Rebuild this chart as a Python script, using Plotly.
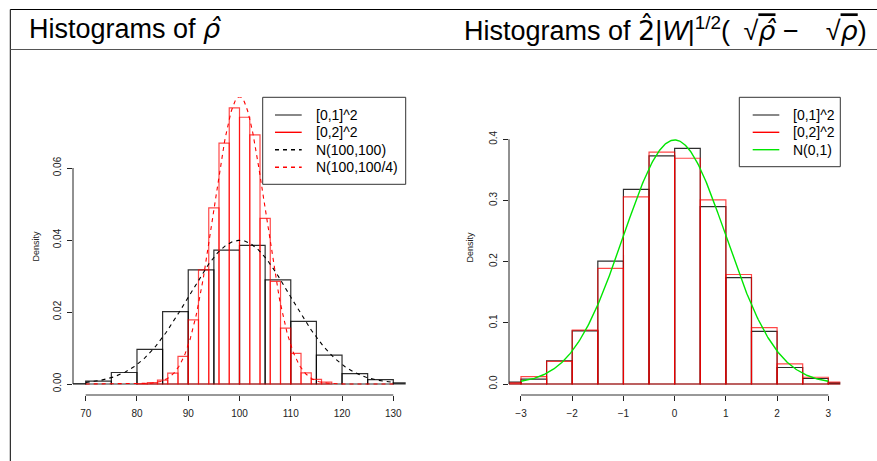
import numpy as np
import plotly.graph_objects as go

# ---------------- data ----------------
# left panel: histograms of rho-hat
left_black_edges = [65, 70, 75, 80, 85, 90, 95, 100, 105, 110, 115, 120, 125, 130]
left_black_dens = [0.0001, 0.0008, 0.0032, 0.0096, 0.0201, 0.0317, 0.0372,
                   0.0385, 0.0289, 0.0174, 0.0080, 0.0029, 0.0012, 0.0003]
left_black_width = 5

left_red_edges = [80, 82, 84, 86, 88, 90, 92, 94, 96, 98, 100, 102, 104, 106,
                  108, 110, 112, 114, 116]
left_red_dens = [0.0001, 0.0004, 0.0011, 0.0030, 0.0077, 0.0178, 0.0317, 0.0489,
                 0.0669, 0.0767, 0.0741, 0.0692, 0.0460, 0.0285, 0.0155, 0.0085,
                 0.0031, 0.0013, 0.0005]
left_red_width = 2

left_norm_mean = 100
left_norm_var_black = 100
left_norm_var_red = 100 / 4
left_curve_span = [70, 130]

left_xticks = [70, 80, 90, 100, 110, 120, 130]
left_yticks = [0.00, 0.02, 0.04, 0.06]
left_yticktext = ["0.00", "0.02", "0.04", "0.06"]

# right panel: standardized statistic
right_edges = [-3.5, -3.0, -2.5, -2.0, -1.5, -1.0, -0.5, 0.0, 0.5, 1.0, 1.5, 2.0, 2.5, 3.0]
right_black_dens = [0.003, 0.008, 0.038, 0.087, 0.201, 0.318, 0.373,
                    0.385, 0.290, 0.174, 0.086, 0.027, 0.009, 0.002]
right_red_dens = [0.002, 0.012, 0.037, 0.088, 0.189, 0.306, 0.379,
                  0.369, 0.301, 0.179, 0.092, 0.033, 0.011, 0.003]
right_width = 0.5
right_curve_span = [-3, 3]

right_xticks = [-3, -2, -1, 0, 1, 2, 3]
right_yticks = [0.0, 0.1, 0.2, 0.3, 0.4]
right_yticktext = ["0.0", "0.1", "0.2", "0.3", "0.4"]

left_legend = ["[0,1]^2", "[0,2]^2", "N(100,100)", "N(100,100/4)"]
right_legend = ["[0,1]^2", "[0,2]^2", "N(0,1)"]

# ---------------- styling ----------------
W, H = 877, 461
BLACK_H = "rgba(0,0,0,0.82)"
RED_H = "rgba(255,0,0,0.72)"
LEG_GRAY = "#555555"
GREEN = "#00e600"
FONT = "Liberation Sans, Arial, sans-serif"
TITLE_FONT = "Liberation Sans Narrow, Liberation Sans, Arial, sans-serif"


def px(x):
    return x / W


def py(y):
    return 1 - y / H


def npdf(x, m, v):
    return np.exp(-(x - m) ** 2 / (2 * v)) / np.sqrt(2 * np.pi * v)


fig = go.Figure()


def add_hist(edges, dens, width, color, xa, ya):
    fig.add_trace(go.Bar(
        x=[e + width / 2 for e in edges], y=dens, width=width,
        marker=dict(color="rgba(0,0,0,0)", line=dict(color=color, width=1.2)),
        xaxis=xa, yaxis=ya, showlegend=False, hoverinfo="skip"))


add_hist(left_black_edges, left_black_dens, left_black_width, BLACK_H, "x", "y")
add_hist(left_red_edges, left_red_dens, left_red_width, RED_H, "x", "y")

xl = np.linspace(left_curve_span[0], left_curve_span[1], 400)
fig.add_trace(go.Scatter(x=xl, y=npdf(xl, left_norm_mean, left_norm_var_black), mode="lines",
                         line=dict(color="black", width=1.1, dash="4px,4px"),
                         xaxis="x", yaxis="y", showlegend=False, hoverinfo="skip"))
fig.add_trace(go.Scatter(x=xl, y=npdf(xl, left_norm_mean, left_norm_var_red), mode="lines",
                         line=dict(color="red", width=1.1, dash="4px,4px"),
                         xaxis="x", yaxis="y", showlegend=False, hoverinfo="skip"))

add_hist(right_edges, right_black_dens, right_width, BLACK_H, "x2", "y2")
add_hist(right_edges, right_red_dens, right_width, RED_H, "x2", "y2")
xr = np.linspace(right_curve_span[0], right_curve_span[1], 400)
fig.add_trace(go.Scatter(x=xr, y=npdf(xr, 0, 1), mode="lines",
                         line=dict(color=GREEN, width=1.4),
                         xaxis="x2", yaxis="y2", showlegend=False, hoverinfo="skip"))

tickfont = dict(family=FONT, size=10, color="#222")
common_x = dict(ticks="outside", ticklen=5, tickwidth=1, tickcolor="#222",
                showline=False, zeroline=False, showgrid=False, tickfont=tickfont,
                ticklabelstandoff=4, fixedrange=True)
common_y = dict(ticks="outside", ticklen=5, tickwidth=1, tickcolor="#222",
                showline=False, zeroline=False, showgrid=False, tickfont=tickfont,
                tickangle=-90, ticklabelstandoff=2, fixedrange=True)

fig.update_layout(
    width=W, height=H, margin=dict(l=0, r=0, t=0, b=0),
    paper_bgcolor="white", plot_bgcolor="white", barmode="overlay",
    showlegend=False,
    xaxis=dict(domain=[px(73), px(405.7)], range=[67.52, 132.42], anchor="y",
               tickvals=left_xticks, ticktext=[str(t) for t in left_xticks], **common_x),
    yaxis=dict(domain=[py(395), py(97)], range=[-0.003056, 0.079722], anchor="x",
               tickvals=left_yticks, ticktext=left_yticktext, **common_y),
    xaxis2=dict(domain=[px(509), px(840.3)], range=[-3.234, 3.234], anchor="y2",
                tickvals=right_xticks, ticktext=[str(t).replace("-", "\u2212") for t in right_xticks],
                **common_x),
    yaxis2=dict(domain=[py(395), py(97)], range=[-0.01798, 0.46914], anchor="x2",
                tickvals=right_yticks, ticktext=right_yticktext, **common_y),
)

shapes = []
# axis lines spanning only the tick range (R style)
for xa, ya, xt, yt in [("x", "y", left_xticks, left_yticks), ("x2", "y2", right_xticks, right_yticks)]:
    shapes.append(dict(type="line", xref=xa, yref=ya + " domain", x0=xt[0], x1=xt[-1], y0=0, y1=0,
                       line=dict(color="#333", width=1)))
    shapes.append(dict(type="line", xref=xa + " domain", yref=ya, x0=0, x1=0, y0=yt[0], y1=yt[-1],
                       line=dict(color="#222", width=1)))

# table frame around the titles
shapes.append(dict(type="line", xref="paper", yref="paper", x0=px(10.3), x1=1, y0=py(9.5), y1=py(9.5),
                   line=dict(color="black", width=1)))
shapes.append(dict(type="line", xref="paper", yref="paper", x0=px(10.3), x1=px(10.3), y0=py(9.5), y1=0,
                   line=dict(color="black", width=1)))
shapes.append(dict(type="line", xref="paper", yref="paper", x0=px(10.3), x1=1, y0=py(49.5), y1=py(49.5),
                   line=dict(color="#555", width=1.2)))

annotations = []


def legend(box, rows, line_x, text_x, labels, styles):
    x0, y0, x1, y1 = box
    shapes.append(dict(type="rect", xref="paper", yref="paper", x0=px(x0), x1=px(x1),
                       y0=py(y1), y1=py(y0), line=dict(color="#333", width=1)))
    for r, lab, (col, dash) in zip(rows, labels, styles):
        shapes.append(dict(type="line", xref="paper", yref="paper", x0=px(line_x[0]), x1=px(line_x[1]),
                           y0=py(r), y1=py(r), line=dict(color=col, width=1.4, dash=dash)))
        annotations.append(dict(xref="paper", yref="paper", x=px(text_x), y=py(r), xanchor="left",
                                yanchor="middle", showarrow=False, text=lab,
                                font=dict(family=FONT, size=14, color="black")))


legend((262.7, 97.3, 405.7, 184.3), [115, 132.3, 149.7, 167.2], (275, 301.7), 313.5, left_legend,
       [(LEG_GRAY, "solid"), ("red", "solid"), ("black", "4px,4px"), ("red", "4px,4px")])
legend((739.3, 97.3, 840.3, 166.7), [115, 132.3, 149.7], (752.7, 779.3), 790.5, right_legend,
       [(LEG_GRAY, "solid"), ("red", "solid"), (GREEN, "solid")])

# y axis titles
for xpos in (35, 469):
    annotations.append(dict(xref="paper", yref="paper", x=px(xpos), y=py(246.5), textangle=-90,
                            showarrow=False, text="Density", xanchor="center", yanchor="middle",
                            font=dict(family=FONT, size=9, color="#222")))

# panel titles
TFONT = dict(family=TITLE_FONT, size=27, color="black")
RHO_HAT = "<span style='font-family:DejaVu Sans'><i>\u03c1\u0302</i></span>"
RHO = "<span style='font-family:DejaVu Sans'><i>\u03c1</i></span>"
TWO_HAT = "<span style='font-family:DejaVu Sans'>2\u0302</span>"
annotations.append(dict(xref="paper", yref="paper", x=px(27), y=py(29), xanchor="left", yanchor="middle",
                        showarrow=False, text="Histograms of " + RHO_HAT, font=TFONT))
annotations.append(dict(xref="paper", yref="paper", x=px(462), y=py(29), xanchor="left", yanchor="middle",
                        showarrow=False,
                        text=("Histograms of " + TWO_HAT + "|<i>W</i>|<sup>1/2</sup>(\u2002\u221a"
                              "<span style='text-decoration:overline'>" + RHO_HAT + "</span>"
                              " \u2212\u2002\u2002\u221a<span style='text-decoration:overline'>" + RHO + "</span>)"),
                        font=TFONT))

fig.update_layout(shapes=shapes, annotations=annotations)
fig.write_html("out.html")
